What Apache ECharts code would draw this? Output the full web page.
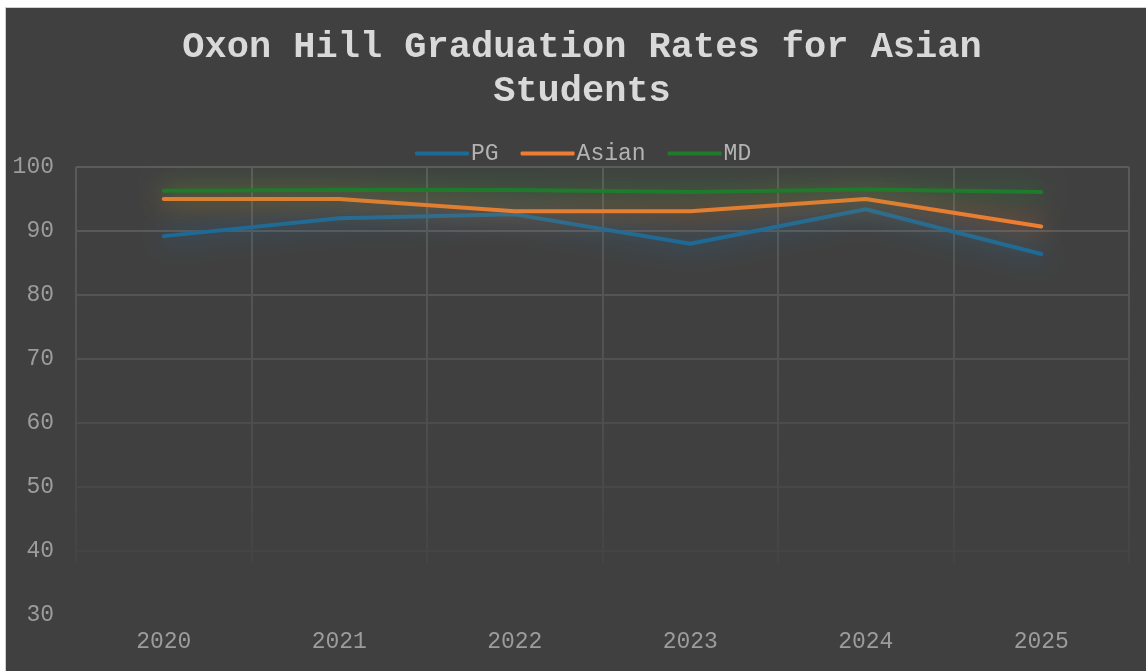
<!DOCTYPE html>
<html>
<head>
<meta charset="utf-8">
<script src="https://cdn.jsdelivr.net/npm/echarts@6/dist/echarts.min.js"></script>
<style>
html,body{margin:0;padding:0;background:#ffffff;}
#main{width:1146px;height:671px;}
</style>
</head>
<body>
<div id="main"></div>
<script>
const titleText = 'Oxon Hill Graduation Rates for Asian\nStudents';
const years = ['2020', '2021', '2022', '2023', '2024', '2025'];
const seriesNames = ['PG', 'Asian', 'MD'];
const pgValues = [89.2, 92.0, 92.6, 88.0, 93.4, 86.4];
const asianValues = [95.0, 95.0, 93.1, 93.1, 95.0, 90.7];
const mdValues = [96.3, 96.4, 96.4, 96.1, 96.5, 96.1];
const yMin = 30, yMax = 100, yStep = 10;

const colors = ['#1d6a96', '#ed7d31', '#1f7a2c'];
const glows = ['rgba(30,115,170,1)', 'rgba(237,125,49,1)', 'rgba(40,150,50,1)'];
const font = '"Liberation Mono", "Courier New", monospace';

const chart = echarts.init(document.getElementById('main'));
const dataSets = [pgValues, asianValues, mdValues];

chart.setOption({
  backgroundColor: '#404040',
  animation: false,
  title: {
    text: titleText,
    left: 582,
    top: 26,
    padding: 0,
    textAlign: 'center',
    textStyle: {
      fontFamily: font,
      fontWeight: 'bold',
      fontSize: 37,
      lineHeight: 44,
      color: '#d9d9d9',
      align: 'center'
    }
  },
  legend: {
    data: seriesNames,
    left: 410,
    top: 137,
    itemWidth: 54,
    itemHeight: 4,
    itemGap: 22,
    icon: 'roundRect',
    textStyle: {
      fontFamily: font,
      fontSize: 23,
      color: '#b3b3b3',
      padding: [0, 0, 0, -3]
    }
  },
  grid: {
    left: 76,
    right: 17,
    top: 167,
    bottom: 56,
    containLabel: false
  },
  xAxis: {
    type: 'category',
    data: years,
    boundaryGap: true,
    axisLine: { show: false },
    axisTick: { show: false },
    axisLabel: {
      fontFamily: font,
      fontSize: 23,
      color: '#9c9c9c',
      margin: 15
    },
    splitLine: {
      show: true,
      interval: 0,
      lineStyle: {
        width: 2,
        color: {
          type: 'linear', x: 0, y: 167, x2: 0, y2: 566, global: true,
          colorStops: [
            { offset: 0, color: '#5a5a5a' },
            { offset: 0.5, color: '#515151' },
            { offset: 0.99, color: '#444444' },
            { offset: 1, color: 'rgba(64,64,64,0)' }
          ]
        }
      }
    }
  },
  yAxis: {
    type: 'value',
    min: yMin,
    max: yMax,
    interval: yStep,
    axisLine: { show: false },
    axisTick: { show: false },
    axisLabel: {
      fontFamily: font,
      fontSize: 23,
      color: '#9c9c9c',
      margin: 22
    },
    splitLine: {
      show: true,
      lineStyle: {
        width: 2,
        color: ['#404040', '#444444', '#484848', '#4c4c4c', '#515151', '#555555', '#595959', '#5b5b5b']
      }
    }
  },
  graphic: [
    { type: 'rect', shape: { x: 0, y: 0, width: 5, height: 671 }, style: { fill: '#ffffff' }, z: 100 },
    { type: 'rect', shape: { x: 0, y: 0, width: 1146, height: 7 }, style: { fill: '#ffffff' }, z: 100 },
    { type: 'rect', shape: { x: 5, y: 7, width: 1, height: 664 }, style: { fill: '#d0d0d0' }, z: 100 },
    { type: 'rect', shape: { x: 5, y: 7, width: 1141, height: 1 }, style: { fill: '#d0d0d0' }, z: 100 }
  ],
  series: seriesNames.map((name, i) => ({
    name: name,
    type: 'line',
    data: dataSets[i],
    showSymbol: false,
    symbol: 'none',
    color: colors[i],
    lineStyle: {
      width: 4,
      color: colors[i],
      cap: 'round',
      join: 'round',
      shadowColor: glows[i],
      shadowBlur: 26
    },
    itemStyle: { color: colors[i] }
  }))
});
</script>
</body>
</html>
